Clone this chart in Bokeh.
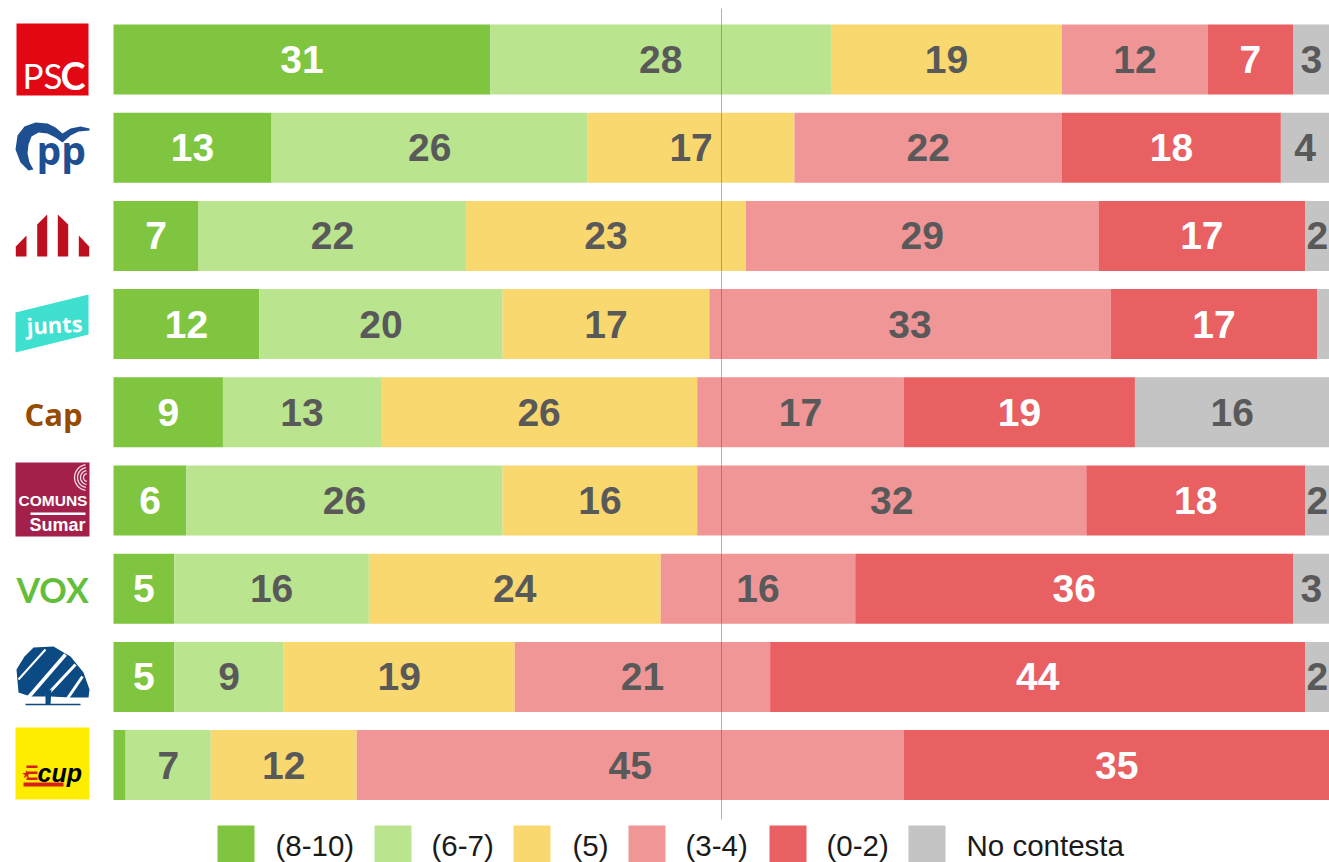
import numpy as np
from bokeh.plotting import figure
from bokeh.models import ColumnDataSource, Range1d
from bokeh.core.properties import value
from bokeh.embed import file_html
from bokeh.resources import INLINE

# ---- data ----
parties = ["PSC", "PP", "ERC", "Junts", "Cap", "Comuns", "Vox", "PDeCAT", "CUP"]
categories = ["(8-10)", "(6-7)", "(5)", "(3-4)", "(0-2)", "No contesta"]
v_8_10 = [31, 13, 7, 12, 9, 6, 5, 5, 1]
v_6_7 = [28, 26, 22, 20, 13, 26, 16, 9, 7]
v_5 = [19, 17, 23, 17, 26, 16, 24, 19, 12]
v_3_4 = [12, 22, 29, 33, 17, 32, 16, 21, 45]
v_0_2 = [7, 18, 17, 17, 19, 18, 36, 44, 35]
v_nc = [3, 4, 2, 1, 16, 2, 3, 2, 0]
series = [v_8_10, v_6_7, v_5, v_3_4, v_0_2, v_nc]
midline = [50]

# ---- style ----
colors = ["#80C540", "#BBE48F", "#F9D86F", "#F09696", "#E86062", "#C4C4C4"]
label_colors = ["#FFFFFF", "#595959", "#595959", "#595959", "#FFFFFF", "#595959"]

W, H = 1329, 862
X0 = 113
PX_PER_UNIT = (W - X0) / 100
ROW = 88.2
Y0 = 59


def fx(px):
    return np.asarray(px, dtype=float)


def fy(py):
    return np.asarray(py, dtype=float) - 1


p = figure(
    width=W, height=H, output_backend="svg", toolbar_location=None,
    x_range=Range1d(-X0 / PX_PER_UNIT, (W - X0) / PX_PER_UNIT),
    y_range=Range1d((H - Y0) / ROW, -Y0 / ROW),
    min_border=0, outline_line_color=None, background_fill_color="white",
)
p.xaxis.visible = False
p.yaxis.visible = False
p.grid.visible = False
p.extra_x_ranges["px"] = Range1d(0, W)
p.extra_y_ranges["py"] = Range1d(H, 0)

rows = list(range(len(parties)))
left = np.zeros(len(parties))
for vals, col, lc in zip(series, colors, label_colors):
    vals = np.asarray(vals, dtype=float)
    right = left + vals
    p.hbar(y=rows, left=left, right=right, height=70 / ROW, fill_color=col, line_color=None)
    keep = vals >= 2
    src = ColumnDataSource(dict(
        x=((left + right) / 2)[keep],
        y=np.array(rows)[keep],
        t=[str(int(v)) for v in vals[keep]],
    ))
    p.text("x", "y", text="t", source=src, text_align="center", text_baseline="middle",
           text_font=value("Liberation Sans"), text_font_style="bold",
           text_font_size="39px", text_color=lc)
    left = right

# centre line
p.segment(x0=midline, x1=midline, y0=[(8 - Y0) / ROW], y1=[(819 - Y0) / ROW],
          line_color="#555555", line_alpha=0.45, line_width=1)

# ---- legend ----
swatch_x = [217, 374, 513, 628, 769, 908]
text_x = [275, 431, 572, 685, 826, 966]
p.quad(left=fx(swatch_x), right=fx(swatch_x) + 37, top=[fy(826)] * 6, bottom=[fy(863)] * 6,
       fill_color=colors, line_color=None, x_range_name="px", y_range_name="py")
p.text(x=fx(text_x), y=[fy(845.5)] * 6, text=categories, text_align="left", text_baseline="middle",
       text_font=value("Liberation Sans"), text_font_size="29.5px", text_color="#1A1A1A",
       x_range_name="px", y_range_name="py")


# ---- logos (drawn in pixel space) ----
def poly(pts, color):
    a = np.array(pts, dtype=float)
    p.patch(fx(a[:, 0]), fy(a[:, 1]), fill_color=color, line_color=None, x_range_name="px", y_range_name="py")


def box(x0, y0, x1, y1, color):
    poly([(x0, y0), (x1, y0), (x1, y1), (x0, y1)], color)


def label(x, y, s, size, color, font="Liberation Sans", style="normal", align="left", angle=0):
    p.text(x=[float(fx(x))], y=[float(fy(y))], text=[s], text_align=align, text_baseline="middle",
           text_font=value(font), text_font_style=style, text_font_size=f"{size}px", text_color=color,
           angle=angle, x_range_name="px", y_range_name="py")


def line(pts, color, width):
    a = np.array(pts, dtype=float)
    p.line(fx(a[:, 0]), fy(a[:, 1]), line_color=color, line_width=width, x_range_name="px", y_range_name="py")


# PSC
box(16, 24, 88, 96, "#E30613")
label(22, 75, "PS", 35, "white", "Lato")
label(60, 75, "C", 38, "white", "Lato", "bold")

# PP
poly([(28, 171), (20, 163), (15, 150), (17, 136), (24, 127), (35, 123), (47, 124), (55, 128), (62, 134),
      (70, 129), (80, 127), (89, 129), (89, 131), (78, 132), (70, 136), (62, 143), (55, 138), (47, 134),
      (38, 133), (31, 137), (28, 145), (27, 154), (29, 163), (33, 170)], "#1D4F91")
label(36, 150, "pp", 39, "#1D4F91", "Open Sans", "bold")

# ERC
erc = "#BE0F1E"
poly([(15.3, 247), (26, 236), (26, 257), (15.3, 257)], erc)
poly([(36.7, 225), (46.7, 215), (46.7, 257), (36.7, 257)], erc)
poly([(57.3, 215), (67.7, 225), (67.7, 257), (57.3, 257)], erc)
poly([(78.3, 236), (88.7, 247), (88.7, 257), (78.3, 257)], erc)

# Junts
poly([(15, 313), (88, 295), (88, 335), (15, 353)], "#40E0D0")
label(26, 326, "junts", 22, "white", "Open Sans", "bold", angle=0.05)

# Cap
label(24, 414, "Cap", 31, "#964B00", "Open Sans", "bold")

# Comuns / Sumar
box(15, 463, 89, 537, "#A3204B")
label(52.5, 501, "COMUNS", 15.5, "white", "Liberation Sans", "bold", "center")
box(30, 513, 85, 515.5, "white")
label(57, 525, "Sumar", 18, "white", "Liberation Sans", "bold", "center")
for r in (4, 7, 10, 13):
    t = np.linspace(np.pi * 0.55, np.pi * 1.45, 16)
    line(np.c_[87 + r * np.cos(t), 478 + r * np.sin(t)], "#F3DCE3", 1.3)

# Vox
label(16, 590, "VOX", 34, "#63BE3C", "Lato", "bold")

# Tree
tree = "#0B4A82"
poly([(16, 670), (24, 657), (33, 648), (53, 647), (70, 657), (83, 673), (89, 690), (88, 698), (70, 698), (50, 697),
      (30, 697), (18, 693)], tree)
for seg, w in (([(18, 680), (45, 650)], 2), ([(27, 699), (65, 655)], 3.5), ([(46, 696), (75, 665)], 3),
               ([(67, 699), (82, 677)], 3)):
    line(seg, "white", w)
poly([(45, 692), (51, 690), (50, 705), (45, 705)], tree)
line([(25, 705), (80, 705)], tree, 1.5)

# CUP
box(15, 728, 89, 800, "#FFED00")
for (x0, y0, x1, y1) in ((26, 766, 37, 768.5), (26, 772, 37, 774.5), (26, 778, 37, 780.5), (23, 783, 63, 787)):
    box(x0, y0, x1, y1, "#D5201F")
p.scatter(x=[float(fx(26))], y=[float(fy(775))], marker="star", size=9, fill_color="#D5201F", line_color=None,
          x_range_name="px", y_range_name="py")
label(37, 773, "cup", 25, "black", "Liberation Sans", "bold italic")

open("out.html", "w").write(file_html(p, INLINE))
